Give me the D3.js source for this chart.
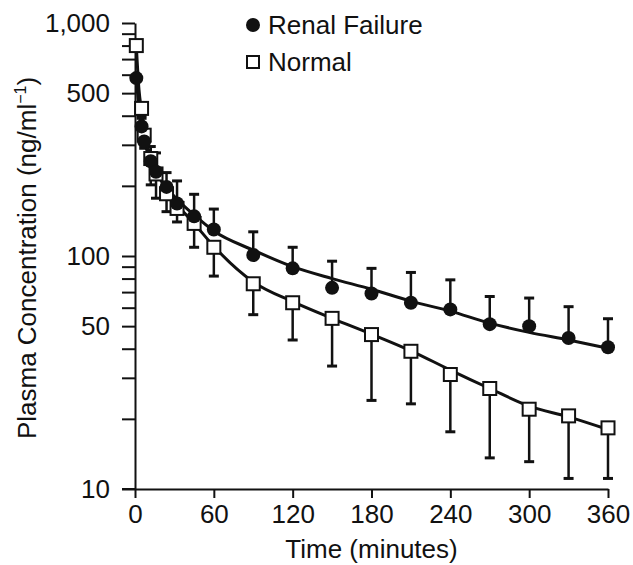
<!DOCTYPE html>
<html>
<head>
<meta charset="utf-8">
<script src="https://cdn.jsdelivr.net/npm/d3@7"></script>
<style>
  body { margin: 0; background: #fff; }
  text { font-family: "Liberation Sans", Arial, sans-serif; fill: #111; }
</style>
</head>
<body>
<div id="chart"></div>
<script>
// sampling times (minutes)
const times = [1, 5, 7, 12, 16, 24, 32, 45, 60, 90, 120, 150, 180, 210, 240, 270, 300, 330, 360];

// renal failure group: mean and upper error bar
const renal = [580, 360, 310, 255, 230, 198, 168, 148, 130, 101, 88.5, 73, 69, 63, 59, 51, 50, 44.5, 40.6];
const renalUpper = [580, 400, 345, 295, 277, 228, 210, 184, 159, 127, 109, 95, 88.5, 85, 79, 67, 66, 60.6, 53.8];

// normal group: mean and lower error bar
const normal = [800, 430, 330, 262, 225, 185, 160, 138, 109, 76, 63, 54, 46, 39, 31, 27, 22, 20.6, 18.3];
const normalLower = [800, 390, 290, 202, 177, 155, 140, 109, 82, 56, 43.6, 33.7, 24, 23.2, 17.6, 13.6, 13.1, 11.1, 11.1];

// fitted curves
const fitTimes = [1, 3, 5, 10, 15, 20, 30, 45, 60, 90, 120, 150, 180, 210, 240, 270, 300, 330, 360];
const renalFit = [580, 430, 350, 275, 238, 212, 180, 150, 128, 106, 90, 80, 72, 64, 58, 51.5, 47, 43.6, 40.2];
const normalFit = [800, 520, 420, 290, 240, 210, 172, 138, 110, 77.4, 63.7, 54, 46.2, 39.2, 32.4, 27, 22.7, 20.4, 18];

const xTicks = [0, 60, 120, 180, 240, 300, 360];
const yTicks = [10, 20, 30, 40, 50, 60, 70, 80, 90, 100, 200, 300, 400, 500, 600, 700, 800, 900, 1000];
const yLabels = [10, 50, 100, 500, 1000];

const width = 633;
const height = 565;
const fontSize = 26;

let svg = d3.select("#chart")
    .append("svg")
    .attr("width", width)
    .attr("height", height);

let x = d3.scaleLinear()
    .domain([0, 360])
    .range([135, 608]);

let y = d3.scaleLog()
    .domain([10, 1000])
    .range([489, 23]);

// axes
svg.append("g")
    .attr("transform", "translate(0," + y(10) + ")")
    .call(d3.axisBottom(x)
        .tickValues(xTicks)
        .tickSize(9)
        .tickSizeOuter(0)
        .tickPadding(7));

svg.append("g")
    .attr("transform", "translate(" + x(0) + ",0)")
    .call(d3.axisLeft(y)
        .tickValues(yTicks)
        .tickSize(13)
        .tickSizeOuter(0)
        .tickPadding(12)
        .tickFormat(d => yLabels.includes(d) ? d3.format(",")(d) : ""));

svg.selectAll(".domain, .tick line")
    .attr("stroke", "#111")
    .attr("stroke-width", 2);

svg.selectAll(".tick text")
    .attr("font-size", fontSize)
    .attr("font-family", "Liberation Sans, Arial, sans-serif")
    .attr("fill", "#111");

// extend x axis line left to meet the 10 tick
svg.append("line")
    .attr("x1", x(0) - 13)
    .attr("x2", x(0))
    .attr("y1", y(10))
    .attr("y2", y(10))
    .attr("stroke", "#111")
    .attr("stroke-width", 2);

// axis titles
svg.append("text")
    .attr("x", (x(0) + x(360)) / 2)
    .attr("y", 558)
    .attr("text-anchor", "middle")
    .attr("font-size", fontSize)
    .text("Time (minutes)");

let yTitle = svg.append("text")
    .attr("transform", "translate(36," + 258 + ") rotate(-90)")
    .attr("text-anchor", "middle")
    .attr("font-size", fontSize);
yTitle.append("tspan").text("Plasma Concentration (ng/ml");
yTitle.append("tspan").attr("font-size", 16).attr("dy", -10).text("\u22121");
yTitle.append("tspan").attr("dy", 10).text(")");

// series
let renalData = times.map((t, i) => ({ t: t, v: renal[i], e: renalUpper[i] }));
let normalData = times.map((t, i) => ({ t: t, v: normal[i], e: normalLower[i] }));
let renalCurve = fitTimes.map((t, i) => ({ t: t, v: renalFit[i] }));
let normalCurve = fitTimes.map((t, i) => ({ t: t, v: normalFit[i] }));

let line = d3.line()
    .x(d => x(d.t))
    .y(d => y(d.v))
    .curve(d3.curveMonotoneX);

[renalCurve, normalCurve].forEach(curve => {
    svg.append("path")
        .datum(curve)
        .attr("d", line)
        .attr("fill", "none")
        .attr("stroke", "#111")
        .attr("stroke-width", 3);
});

[renalData, normalData].forEach(data => {
    let bars = svg.append("g")
        .selectAll("g")
        .data(data.filter(d => d.e != d.v))
        .join("g");
    bars.append("line")
        .attr("x1", d => x(d.t))
        .attr("x2", d => x(d.t))
        .attr("y1", d => y(d.v))
        .attr("y2", d => y(d.e))
        .attr("stroke", "#111")
        .attr("stroke-width", 2.5);
    bars.append("line")
        .attr("x1", d => x(d.t) - 5)
        .attr("x2", d => x(d.t) + 5)
        .attr("y1", d => y(d.e))
        .attr("y2", d => y(d.e))
        .attr("stroke", "#111")
        .attr("stroke-width", 3);
});

// markers
svg.append("g")
    .selectAll("rect")
    .data(normalData)
    .join("rect")
    .attr("x", d => x(d.t) - 6.5)
    .attr("y", d => y(d.v) - 6.5)
    .attr("width", 13)
    .attr("height", 13)
    .attr("fill", "#fff")
    .attr("stroke", "#111")
    .attr("stroke-width", 2);

svg.append("g")
    .selectAll("circle")
    .data(renalData)
    .join("circle")
    .attr("cx", d => x(d.t))
    .attr("cy", d => y(d.v))
    .attr("r", 7)
    .attr("fill", "#111");

// legend
let legend = svg.append("g");
legend.append("circle")
    .attr("cx", 253)
    .attr("cy", 25)
    .attr("r", 7)
    .attr("fill", "#111");
legend.append("text")
    .attr("x", 268)
    .attr("y", 34)
    .attr("font-size", fontSize)
    .text("Renal Failure");
legend.append("rect")
    .attr("x", 247)
    .attr("y", 56)
    .attr("width", 12)
    .attr("height", 12)
    .attr("fill", "#fff")
    .attr("stroke", "#111")
    .attr("stroke-width", 2);
legend.append("text")
    .attr("x", 268)
    .attr("y", 71)
    .attr("font-size", fontSize)
    .text("Normal");
</script>
</body>
</html>
